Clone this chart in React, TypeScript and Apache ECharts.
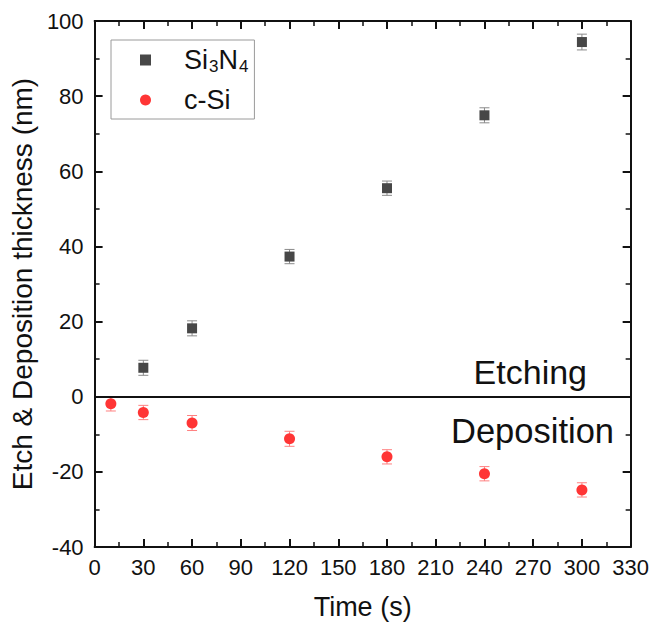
import React, { useEffect, useRef } from "react";
import * as echarts from "echarts";

// ---- Data ----
const siTime = [30, 60, 120, 180, 240, 300];
const siThickness = [7.7, 18.2, 37.3, 55.5, 74.9, 94.4];
const siError = [2.0, 2.0, 1.9, 1.9, 2.0, 2.1];

const cSiTime = [10, 30, 60, 120, 180, 240, 300];
const cSiThickness = [-1.9, -4.2, -7.0, -11.2, -16.0, -20.5, -24.8];
const cSiError = [1.9, 1.9, 2.0, 2.0, 1.9, 1.9, 1.9];

const xTicks = { min: 0, max: 330, interval: 30 };
const yTicks = { min: -40, max: 100, interval: 20 };

const seriesNames = ["Si3N4", "c-Si"];
const annotations = ["Etching", "Deposition"];

const SI_COLOR = "#474747";
const SI_ERR_COLOR = "#8a8a8a";
const CSI_COLOR = "#ff3535";
const CSI_ERR_COLOR = "#ff8080";

function errorBarSeries(times: number[], vals: number[], errs: number[], color: string) {
  return {
    type: "custom",
    silent: true,
    z: 1,
    data: times.map((t, i) => [t, vals[i], errs[i]]),
    renderItem: (params: any, api: any) => {
      const x = api.value(0);
      const y = api.value(1);
      const e = api.value(2);
      const top = api.coord([x, y + e]);
      const bot = api.coord([x, y - e]);
      const hw = 5;
      const style = { stroke: color, lineWidth: 1 };
      return {
        type: "group",
        children: [
          { type: "line", shape: { x1: top[0], y1: top[1], x2: bot[0], y2: bot[1] }, style },
          { type: "line", shape: { x1: top[0] - hw, y1: top[1], x2: top[0] + hw, y2: top[1] }, style },
          { type: "line", shape: { x1: bot[0] - hw, y1: bot[1], x2: bot[0] + hw, y2: bot[1] }, style },
        ],
      };
    },
  };
}

const axisCommon = {
  axisLine: { show: true, onZero: false, lineStyle: { color: "#111", width: 2 } },
  axisTick: { show: true, inside: true, length: 8, lineStyle: { color: "#111", width: 2 } },
  minorTick: { show: true, splitNumber: 2, length: 5, lineStyle: { color: "#111", width: 1.5 } },
  splitLine: { show: false },
};

export default function App() {
  const ref = useRef<HTMLDivElement>(null);

  useEffect(() => {
    if (!ref.current) return;
    const chart = echarts.init(ref.current, null, { renderer: "svg" });
    const fontFamily = "'Liberation Sans', Arial, sans-serif";

    const option: any = {
      animation: false,
      backgroundColor: "#ffffff",
      textStyle: { fontFamily },
      grid: { left: 91, right: 21, top: 21, bottom: 75, containLabel: false },
      legend: {
        orient: "vertical",
        left: 111,
        top: 40,
        data: seriesNames,
        itemWidth: 11,
        itemHeight: 11,
        itemGap: 10,
        padding: [5, 6, 4, 29],
        borderColor: "#9a9a9a",
        borderWidth: 1,
        borderRadius: 0,
        selectedMode: false,
        itemStyle: { opacity: 1 },
        formatter: (name: string) =>
          name === "Si3N4" ? "{p|}{a|Si}{s|3}{a|N}{s|4}" : "{p|}{a|c-Si}",
        textStyle: {
          color: "#111",
          fontFamily,
          rich: {
            p: { width: 28, height: 30, lineHeight: 30 },
            a: { fontSize: 27, fontFamily, color: "#111", lineHeight: 30, verticalAlign: "middle" },
            s: {
              fontSize: 17,
              fontFamily,
              color: "#111",
              lineHeight: 17,
              verticalAlign: "bottom",
              padding: [0, 0, 0, 1],
            },
          },
        },
      },
      xAxis: [
        {
          type: "value",
          position: "bottom",
          min: xTicks.min,
          max: xTicks.max,
          interval: xTicks.interval,
          name: "Time (s)",
          nameLocation: "middle",
          nameGap: 46,
          nameTextStyle: { fontSize: 27, color: "#111", fontFamily },
          axisLabel: { show: true, fontSize: 22, color: "#111", margin: 9, fontFamily },
          ...axisCommon,
        },
        {
          type: "value",
          position: "top",
          min: xTicks.min,
          max: xTicks.max,
          interval: xTicks.interval,
          axisLabel: { show: false },
          ...axisCommon,
        },
      ],
      yAxis: [
        {
          type: "value",
          position: "left",
          min: yTicks.min,
          max: yTicks.max,
          interval: yTicks.interval,
          name: "Etch & Deposition thickness (nm)",
          nameLocation: "middle",
          nameGap: 55,
          nameTextStyle: { fontSize: 28, color: "#111", fontFamily },
          axisLabel: { show: true, fontSize: 22, color: "#111", margin: 11, fontFamily },
          ...axisCommon,
        },
        {
          type: "value",
          position: "right",
          min: yTicks.min,
          max: yTicks.max,
          interval: yTicks.interval,
          axisLabel: { show: false },
          ...axisCommon,
        },
      ],
      series: [
        errorBarSeries(siTime, siThickness, siError, SI_ERR_COLOR),
        errorBarSeries(cSiTime, cSiThickness, cSiError, CSI_ERR_COLOR),
        {
          name: seriesNames[0],
          type: "scatter",
          symbol: "rect",
          symbolSize: 10,
          z: 3,
          itemStyle: { color: SI_COLOR, opacity: 1 },
          data: siTime.map((t, i) => [t, siThickness[i]]),
          markLine: {
            silent: true,
            symbol: ["none", "none"],
            label: { show: false },
            lineStyle: { color: "#111", width: 2, type: "solid" },
            data: [{ yAxis: 0 }],
          },
        },
        {
          name: seriesNames[1],
          type: "scatter",
          symbol: "circle",
          symbolSize: 11,
          z: 3,
          itemStyle: { color: CSI_COLOR, opacity: 1 },
          data: cSiTime.map((t, i) => [t, cSiThickness[i]]),
        },
      ],
      graphic: [
        {
          type: "text",
          right: 652 - 587,
          top: 355,
          style: { text: annotations[0], fontSize: 34, fill: "#111", fontFamily },
        },
        {
          type: "text",
          right: 652 - 614,
          top: 413,
          style: { text: annotations[1], fontSize: 34.5, fill: "#111", fontFamily },
        },
      ],
    };

    chart.setOption(option);
    return () => chart.dispose();
  }, []);

  return (
    <div
      ref={ref}
      style={{ position: "fixed", left: 0, top: 0, width: 652, height: 625, background: "#fff" }}
    />
  );
}
